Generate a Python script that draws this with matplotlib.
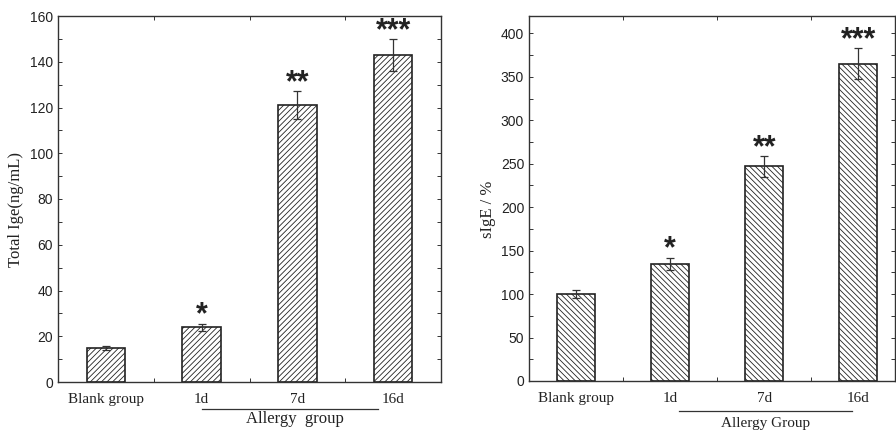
import numpy as np
import matplotlib.pyplot as plt
from matplotlib.ticker import MultipleLocator

categories = ['Blank group', '1d', '7d', '16d']
total_ige = [15, 24, 121, 143]
total_ige_err = [0.8, 1.5, 6, 7]
total_ige_stars = ['', '*', '**', '***']
sige = [100, 135, 247, 365]
sige_err = [5, 7, 12, 18]
sige_stars = ['', '*', '**', '***']

plt.rcParams['hatch.linewidth'] = 0.6
serif = 'Liberation Serif'
sans = 'Liberation Sans'

fig = plt.figure(figsize=(8.96, 4.32), dpi=100)
ax1 = fig.add_axes([58 / 896, 50 / 432, 383 / 896, 366 / 432])
ax2 = fig.add_axes([529 / 896, 51 / 432, 366 / 896, 365 / 432])


def draw(ax, vals, errs, stars, hatch, ylim, ystep, xlim, ylabel):
    x = np.arange(len(categories))
    ax.bar(x, vals, width=0.4, color='white', edgecolor='#222222', linewidth=1.2,
           hatch=hatch, zorder=2)
    ax.errorbar(x, vals, yerr=errs, fmt='none', ecolor='#333333', elinewidth=0.9,
                capsize=3, capthick=0.9, zorder=3)
    for xi, v, e, s in zip(x, vals, errs, stars):
        if s:
            ax.annotate(s, (xi, v + e), xytext=(0, -5), textcoords='offset points',
                        ha='center', va='bottom', fontsize=22, fontweight='bold',
                        fontfamily=sans, color='#222222')
    ax.set_xlim(*xlim)
    ax.set_ylim(*ylim)
    ax.yaxis.set_major_locator(MultipleLocator(ystep))
    ax.yaxis.set_minor_locator(MultipleLocator(ystep / 2))
    ax.set_xticks(x)
    ax.xaxis.set_minor_locator(MultipleLocator(0.5))
    ax.set_xticklabels(categories, fontfamily=serif, fontsize=11)
    for lab in ax.get_yticklabels():
        lab.set_fontfamily(sans)
        lab.set_fontsize(10)
    ax.tick_params(which='both', direction='in', top=True, right=True, length=3,
                   width=0.7, colors='#333333', labelcolor='#222222')
    ax.tick_params(axis='x', which='major', length=0, pad=8)
    for sp in ax.spines.values():
        sp.set_linewidth(1.0)
        sp.set_color('#333333')
    ax.set_ylabel(ylabel, fontfamily=serif, fontsize=12, color='#222222')
    ax.yaxis.set_label_coords(-0.09, 0.47)


draw(ax1, total_ige, total_ige_err, total_ige_stars, '//////', (0, 160), 20,
     (-0.5, 3.5), 'Total Ige(ng/mL)')
draw(ax2, sige, sige_err, sige_stars, '\\\\\\\\\\\\', (0, 420), 50,
     (-0.5, 3.39), 'sIgE / %')

# group brackets under the x labels
fig.add_artist(plt.Line2D([202 / 896, 378 / 896], [1 - 409 / 432] * 2,
                          color='#333333', linewidth=0.9))
fig.text(295 / 896, 1 - 419 / 432, 'Allergy  group', ha='center', va='center',
         fontfamily=serif, fontsize=12, color='#222222')
fig.add_artist(plt.Line2D([679 / 896, 852 / 896], [1 - 411 / 432] * 2,
                          color='#333333', linewidth=0.9))
fig.text(766 / 896, 1 - 424 / 432, 'Allergy Group', ha='center', va='center',
         fontfamily=serif, fontsize=11, color='#222222')

fig.savefig('out.png', dpi=100)
